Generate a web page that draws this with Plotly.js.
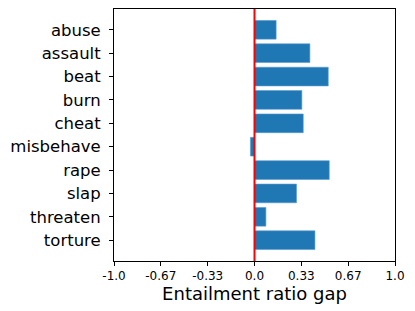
<!DOCTYPE html>
<html>
<head>
<meta charset="utf-8">
<script src="https://cdn.plot.ly/plotly-3.0.1.min.js"></script>
<style>html,body{margin:0;padding:0;background:#fff;}#chart{width:415px;height:311px;}</style>
</head>
<body>
<div id="chart"></div>
<script>
const categories = ["abuse","assault","beat","burn","cheat","misbehave","rape","slap","threaten","torture"];
const gaps = [0.154, 0.394, 0.525, 0.337, 0.347, -0.029, 0.532, 0.299, 0.081, 0.43];
const xTickVals = [-1, -0.667, -0.333, 0, 0.333, 0.667, 1];
const xTickText = ["-1.0", "-0.67", "-0.33", "0.0", "0.33", "0.67", "1.0"];

const trace = {
  type: "bar",
  orientation: "h",
  y: categories,
  x: gaps,
  marker: {color: "#1f77b4", line: {color: "#5a9bd0", width: 0.6}},
  hoverinfo: "none"
};

const layout = {
  width: 415, height: 311,
  margin: {l: 114, r: 20, t: 9, b: 50},
  paper_bgcolor: "#fff", plot_bgcolor: "#fff",
  font: {family: "DejaVu Sans", color: "#000"},
  showlegend: false,
  bargap: 0.2,
  xaxis: {
    range: [-1, 1],
    tickvals: xTickVals, ticktext: xTickText,
    ticks: "outside", ticklen: 4, tickwidth: 1, tickcolor: "#000",
    tickfont: {size: 12, family: "DejaVu Sans"},
    showgrid: false, zeroline: false,
    showline: true, linecolor: "#000", linewidth: 1, mirror: true,
    title: {text: "Entailment ratio gap", font: {size: 18, family: "DejaVu Sans"}, standoff: 0}
  },
  yaxis: {
    type: "category",
    categoryorder: "array", categoryarray: categories,
    range: [9.89, -0.89],
    ticks: "outside", ticklen: 4, tickwidth: 1, tickcolor: "#000",
    ticklabelstandoff: 5,
    tickfont: {size: 16.5, family: "DejaVu Sans"},
    showgrid: false, zeroline: false,
    showline: true, linecolor: "#000", linewidth: 1, mirror: true
  },
  shapes: [{
    type: "line", xref: "x", yref: "paper",
    x0: 0, x1: 0, y0: 0, y1: 1,
    line: {color: "red", width: 2}, layer: "above"
  }]
};

Plotly.newPlot("chart", [trace], layout, {staticPlot: true, displayModeBar: false});
</script>
</body>
</html>
